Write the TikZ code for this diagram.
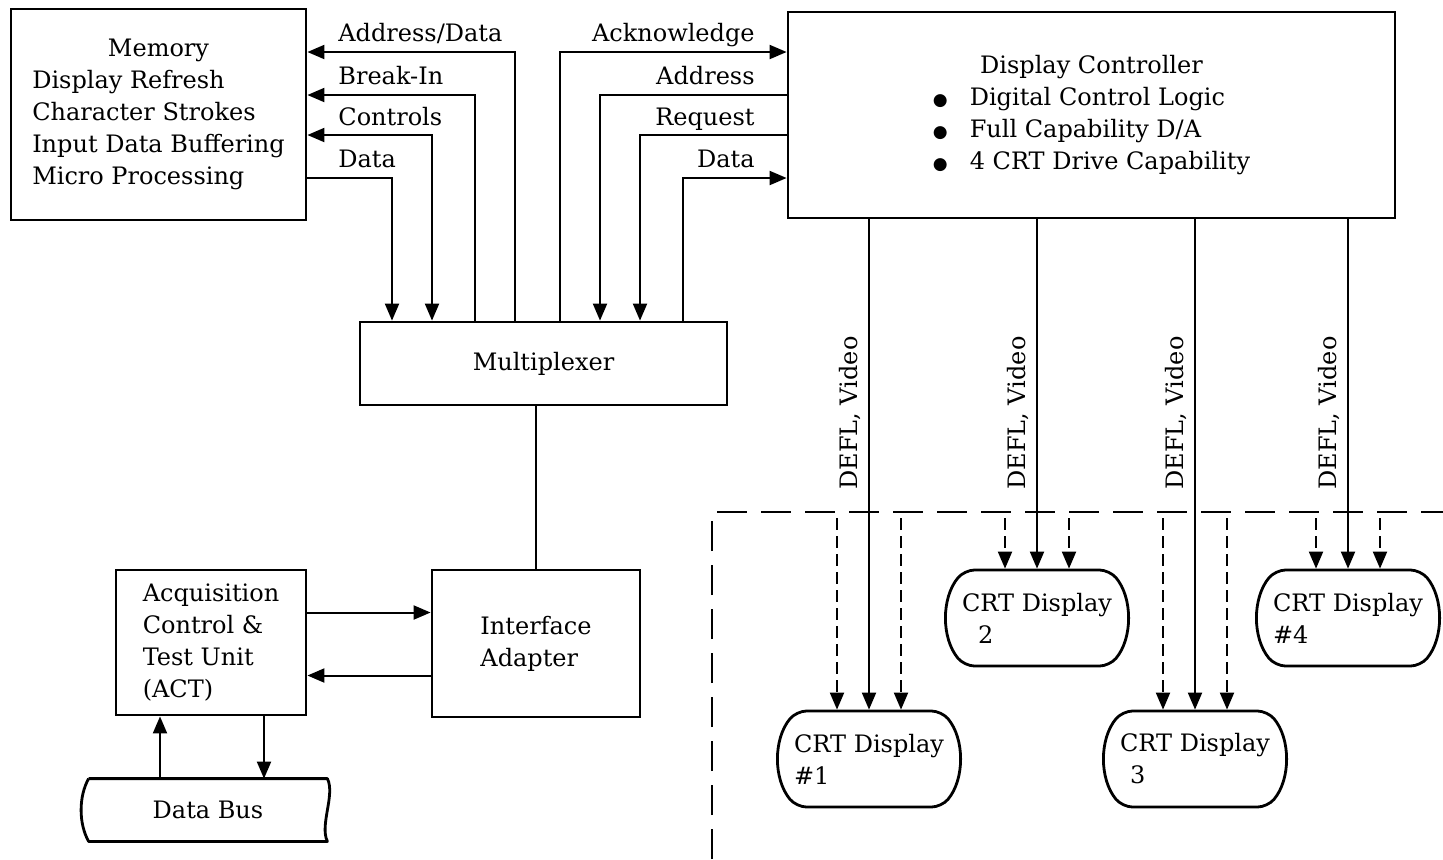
\documentclass[tikz,border=0pt]{standalone}
\usepackage{fontspec}
\setmainfont{DejaVu Serif}
\newfontfamily\symfont{DejaVu Sans}
\usetikzlibrary{arrows.meta,shapes.misc}

\begin{document}
\begin{tikzpicture}[x=0.5pt,y=-0.5pt,font=\fontsize{12}{16}\selectfont,>={Triangle[length=8.5pt,width=7pt]}]
\tikzset{box/.style={draw, line width=1.4pt, inner sep=0pt}, arr/.style={->, line width=1pt}, barr/.style={<->, line width=1pt}, wire/.style={line width=1pt}, lbl/.style={inner sep=0pt}, vlbl/.style={rotate=90, anchor=south, inner sep=0pt}, crt/.style={draw, line width=1.4pt, rounded rectangle, rounded rectangle arc length=80, rounded corners=5pt, minimum width=90pt, minimum height=48pt, inner sep=0pt, align=left}, darr/.style={->, line width=1pt, dash pattern=on 6pt off 3pt}, border/.style={line width=1pt, dash pattern=on 15pt off 7pt}}
\useasboundingbox (0,0) rectangle (1443,859);
\node[box, minimum width=147.5pt, minimum height=105.5pt] (mem) at (158.5,114.5) {\begin{tabular}{@{}l@{}}\multicolumn{1}{@{}c@{}}{Memory}\\Display Refresh\\Character Strokes\\Input Data Buffering\\Micro Processing\end{tabular}};
\node[box, minimum width=303.5pt, minimum height=103pt] (dc) at (1091.5,115) {\begin{tabular}{@{}c@{\hspace{11pt}}l@{}}\multicolumn{2}{c}{Display Controller}\\{\symfont\fontsize{8.5}{8}\selectfont ●}&Digital Control Logic\\{\symfont\fontsize{8.5}{8}\selectfont ●}&Full Capability D/A\\{\symfont\fontsize{8.5}{8}\selectfont ●}&4 CRT Drive Capability\end{tabular}};
\node[box, minimum width=183.5pt, minimum height=41.5pt] (mux) at (543.5,363.5) {Multiplexer};
\node[box, minimum width=104pt, minimum height=73.5pt, align=left] (ia) at (536,643.5) {Interface\\Adapter};
\node[box, minimum width=95pt, minimum height=72.5pt, align=left] (act) at (211,642.5) {Acquisition\\Control \&\\Test Unit\\(ACT)};
\node[minimum width=119pt, minimum height=31pt, inner sep=0pt] (bus) at (208,810) {Data Bus};
\node[crt] (crt1) at (869,759) {CRT Display\\\#1};
\node[crt] (crt2) at (1037,618) {CRT Display\\\hspace*{8pt}2};
\node[crt] (crt3) at (1195,759) {CRT Display\\\hspace*{5pt}3};
\node[crt] (crt4) at (1348,618) {CRT Display\\\#4};
\coordinate (cut) at (0,518);
\node[lbl, anchor=base west] (laddr) at (338,41) {Address/Data};
\node[lbl, anchor=base west] (lbreak) at (338,84) {Break-In};
\node[lbl, anchor=base west] (lctrl) at (338,125) {Controls};
\node[lbl, anchor=base west] (ldata) at (338,167) {Data};
\node[lbl, anchor=base east] (lack) at (755,41) {Acknowledge};
\node[lbl, anchor=base east] (laddr2) at (755,84) {Address};
\node[lbl, anchor=base east] (lreq) at (755,125) {Request};
\node[lbl, anchor=base east] (ldata2) at (755,167) {Data};
\draw[arr] (mux.north -| 515,0) |- (mem.east |- 0,52); \draw[arr] (mux.north -| 475,0) |- (mem.east |- 0,95); \draw[barr] (mux.north -| 432,0) |- (mem.east |- 0,135); \draw[arr] (mem.east |- 0,178) -| (mux.north -| 392,0);
\draw[arr] (mux.north -| 560,0) |- (dc.west |- 0,52); \draw[arr] (dc.west |- 0,95) -| (mux.north -| 600,0); \draw[arr] (dc.west |- 0,135) -| (mux.north -| 640,0); \draw[arr] (mux.north -| 683,0) |- (dc.west |- 0,178);
\draw[wire] (ia.north |- mux.south) -- (ia.north);
\draw[arr] ([yshift=15pt]act.east) -- ([yshift=15pt]act.east -| ia.west); \draw[arr] ([yshift=-16pt]ia.west) -- ([yshift=-16pt]ia.west -| act.east);
\draw[arr] ([xshift=-25.5pt]act.south |- bus.north) -- ([xshift=-25.5pt]act.south); \draw[arr] ([xshift=26.5pt]act.south) -- ([xshift=26.5pt]act.south |- bus.north);
\draw[line width=1.4pt, line join=round] (bus.north west) -- (bus.north east) .. controls +(4pt,-8pt) and +(-4pt,8pt) .. (bus.south east) -- (bus.south west) .. controls +(-5pt,9pt) and +(-5pt,-9pt) .. (bus.north west);
\draw[border] (712,859) |- (1443,512);
\draw[arr] (dc.south -| crt1.north) -- (crt1.north); \draw[darr] ([xshift=-16pt]crt1.north |- cut) -- ([xshift=-16pt]crt1.north); \draw[darr] ([xshift=16pt]crt1.north |- cut) -- ([xshift=16pt]crt1.north);
\draw[arr] (dc.south -| crt2.north) -- (crt2.north); \draw[darr] ([xshift=-16pt]crt2.north |- cut) -- ([xshift=-16pt]crt2.north); \draw[darr] ([xshift=16pt]crt2.north |- cut) -- ([xshift=16pt]crt2.north);
\draw[arr] (dc.south -| crt3.north) -- (crt3.north); \draw[darr] ([xshift=-16pt]crt3.north |- cut) -- ([xshift=-16pt]crt3.north); \draw[darr] ([xshift=16pt]crt3.north |- cut) -- ([xshift=16pt]crt3.north);
\draw[arr] (dc.south -| crt4.north) -- (crt4.north); \draw[darr] ([xshift=-16pt]crt4.north |- cut) -- ([xshift=-16pt]crt4.north); \draw[darr] ([xshift=16pt]crt4.north |- cut) -- ([xshift=16pt]crt4.north);
\node[vlbl] (v1) at ([xshift=-4pt]crt1.north |- 0,413) {DEFL, Video};
\node[vlbl] (v2) at ([xshift=-4pt]crt2.north |- 0,413) {DEFL, Video};
\node[vlbl] (v3) at ([xshift=-4pt]crt3.north |- 0,413) {DEFL, Video};
\node[vlbl] (v4) at ([xshift=-4pt]crt4.north |- 0,413) {DEFL, Video};
\end{tikzpicture}
\end{document}
